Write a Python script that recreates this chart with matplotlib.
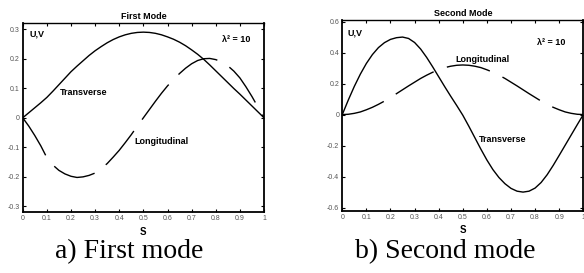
import matplotlib
matplotlib.use("Agg")
import matplotlib.pyplot as plt
import numpy as np

plt.rcParams["font.family"] = ["Liberation Sans", "DejaVu Sans"]
plt.rcParams["lines.scale_dashes"] = False

# Data (abscissa S, step 0.025)
S = np.linspace(0, 1, 41)

# First mode
transverse_1 = [0, 0.017, 0.034, 0.051, 0.069, 0.090, 0.112, 0.134, 0.156, 0.175,
                0.193, 0.211, 0.227, 0.241, 0.254, 0.265, 0.274, 0.281, 0.286, 0.289,
                0.290, 0.289, 0.286, 0.281, 0.274, 0.266, 0.256, 0.244, 0.230, 0.215,
                0.198, 0.179, 0.159, 0.139, 0.119, 0.099, 0.080, 0.060, 0.040, 0.020, 0]
longitudinal_1 = [0, -0.028, -0.060, -0.095, -0.135, -0.160, -0.178, -0.190, -0.198, -0.202,
                  -0.200, -0.195, -0.187, -0.172, -0.155, -0.133, -0.110, -0.084, -0.057, -0.028,
                  0.0, 0.028, 0.056, 0.083, 0.108, 0.130, 0.150, 0.168, 0.183, 0.194,
                  0.200, 0.201, 0.197, 0.189, 0.176, 0.158, 0.135, 0.105, 0.072, 0.036, 0]

# Second mode
transverse_2 = [0, 0.094, 0.182, 0.261, 0.330, 0.387, 0.432, 0.464, 0.485, 0.496,
                0.500, 0.491, 0.465, 0.423, 0.369, 0.308, 0.244, 0.180, 0.118, 0.058,
                -0.004, -0.075, -0.149, -0.223, -0.293, -0.355, -0.406, -0.446, -0.476, -0.494,
                -0.500, -0.494, -0.474, -0.438, -0.388, -0.328, -0.263, -0.197, -0.131, -0.065, 0]
longitudinal_2 = [0, 0.002, 0.008, 0.017, 0.031, 0.047, 0.066, 0.087, 0.111, 0.135,
                  0.160, 0.185, 0.209, 0.233, 0.254, 0.273, 0.289, 0.303, 0.312, 0.318,
                  0.320, 0.318, 0.312, 0.303, 0.289, 0.273, 0.254, 0.233, 0.209, 0.185,
                  0.160, 0.135, 0.111, 0.087, 0.066, 0.047, 0.031, 0.017, 0.008, 0.002, 0]

x_ticks = [0, 0.1, 0.2, 0.3, 0.4, 0.5, 0.6, 0.7, 0.8, 0.9, 1]
x_labels = ["0", "0.1", "0.2", "0.3", "0.4", "0.5", "0.6", "0.7", "0.8", "0.9", "1"]
y_ticks_1 = [-0.3, -0.2, -0.1, 0, 0.1, 0.2, 0.3]
y_labels_1 = ["-0.3", "-0.2", "-0.1", "0", "0.1", "0.2", "0.3"]
y_ticks_2 = [-0.6, -0.4, -0.2, 0, 0.2, 0.4, 0.6]
y_labels_2 = ["-0.6", "-0.4", "-0.2", "0", "0.2", "0.4", "0.6"]

fig = plt.figure(figsize=(5.84, 2.73), dpi=100)
ax1 = fig.add_axes([0.0389, 0.2223, 0.4132, 0.6924])
ax2 = fig.add_axes([0.5861, 0.2282, 0.4127, 0.6985])

DASH = (31.7, 10.1)


def style(ax, title, yticks, ylabels, ylim):
    ax.set_xlim(0, 1)
    ax.set_ylim(*ylim)
    ax.set_xticks(x_ticks)
    ax.set_xticklabels(x_labels)
    ax.set_yticks(yticks)
    ax.set_yticklabels(ylabels)
    ax.tick_params(direction="in", length=2.2, width=0.8, labelsize=5,
                   labelcolor="#555555", pad=2.2, top=True, right=True)
    for side in ["left", "bottom", "right"]:
        ax.spines[side].set_linewidth(1.3)
    ax.spines["top"].set_linewidth(1.0)
    ax.set_title(title, fontsize=6.5, fontweight="bold", pad=3)
    ax.set_xlabel("S", fontsize=7, fontweight="bold", labelpad=3)


# First mode
ax1.plot(S, transverse_1, color="black", lw=1.0)
ax1.plot(S, longitudinal_1, color="black", lw=1.0, dashes=DASH)
style(ax1, "First Mode", y_ticks_1, y_labels_1, (-0.32, 0.32))
ax1.text(0.03, 0.283, "U,V", fontsize=6.5, fontweight="bold", va="center")
ax1.text(0.825, 0.264, "λ² = 10", fontsize=6.5, fontweight="bold", va="center")
ax1.text(0.155, 0.086, "Transverse", fontsize=6.5, fontweight="bold", va="center")
ax1.text(0.461, -0.079, "Longitudinal", fontsize=6.5, fontweight="bold", va="center")

# Second mode
ax2.plot(S, transverse_2, color="black", lw=1.0)
ax2.plot(S, longitudinal_2, color="black", lw=1.0, dashes=DASH)
style(ax2, "Second Mode", y_ticks_2, y_labels_2, (-0.62, 0.61))
ax2.text(0.02, 0.526, "U,V", fontsize=6.5, fontweight="bold", va="center")
ax2.text(0.808, 0.468, "λ² = 10", fontsize=6.5, fontweight="bold", va="center")
ax2.text(0.468, 0.355, "Longitudinal", fontsize=6.5, fontweight="bold", va="center")
ax2.text(0.567, -0.161, "Transverse", fontsize=6.5, fontweight="bold", va="center")

# Captions
fig.text(0.221, 0.055, "a) First mode", fontsize=20, family="Liberation Serif",
         ha="center", va="baseline")
fig.text(0.762, 0.055, "b) Second mode", fontsize=20, family="Liberation Serif",
         ha="center", va="baseline")

fig.savefig("out.png", dpi=100)
